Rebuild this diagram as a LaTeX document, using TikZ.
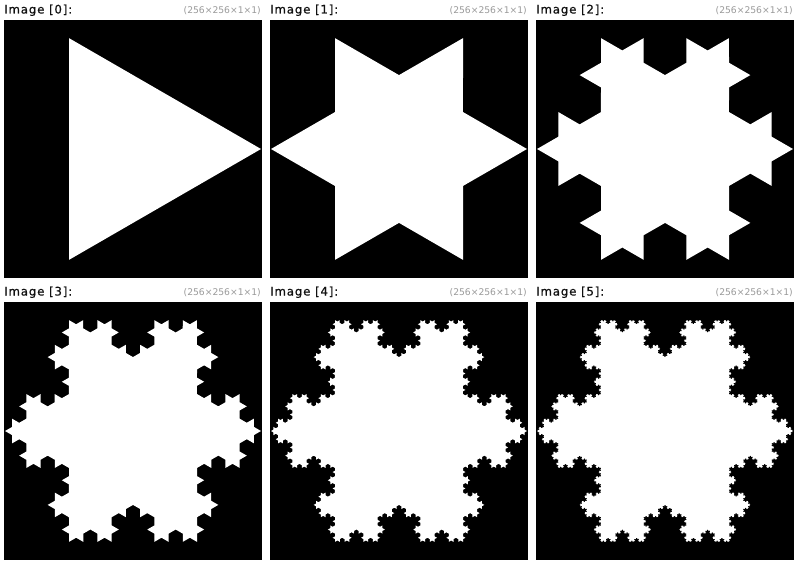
\documentclass[tikz,border=0pt]{standalone}
\usepackage{fontspec}
\setmainfont{DejaVu Sans}
\newfontfamily\titlefont[LetterSpace=7,FakeBold=0.6]{DejaVu Sans}
\usetikzlibrary{decorations.fractals}
\definecolor{titlegray}{HTML}{111111}
\definecolor{sizegray}{HTML}{9A9A9A}
\tikzset{
  panel/.style={fill=black},
  flake/.style={fill=white, decoration=Koch snowflake},
  title/.style={anchor=base west, inner sep=0pt, font=\titlefont\fontsize{11.8}{13}\selectfont, text=titlegray},
  dims/.style={anchor=base east, inner sep=0pt, font=\fontsize{9.2}{11}\selectfont, text=sizegray},
}
\begin{document}
\begin{tikzpicture}[x=1pt,y=-1pt]
\useasboundingbox[fill=white] (0,0) rectangle (798,564);
% panels
\foreach \px/\py/\k in {4/20/0, 270/20/1, 536/20/2, 4/302/3, 270/302/4, 536/302/5}{
  \fill[panel] (\px,\py) rectangle ++(258,258);
  \node[title] (t\k) at (\px,\py-6.5) {Image [\k]:};
  \node[dims] (d\k) at (\px+257,\py-6.5) {(256×256×1×1)};
}
% level 0
\begin{scope}[shift={(133,149)}]
  \fill[white] (0:128) -- (120:128) -- (240:128) -- cycle;
\end{scope}
% level 1
\begin{scope}[shift={(399,149)}]
  \fill[flake] decorate{ (0:128) -- (120:128) -- (240:128) -- (0:128) };
\end{scope}
% level 2
\begin{scope}[shift={(665,149)}]
  \fill[flake] decorate{ decorate{ (0:128) -- (120:128) -- (240:128) -- (0:128) } };
\end{scope}
% level 3
\begin{scope}[shift={(133,431)}]
  \fill[flake] decorate{ decorate{ decorate{ (0:128) -- (120:128) -- (240:128) -- (0:128) } } };
\end{scope}
% level 4
\begin{scope}[shift={(399,431)}]
  \fill[flake] decorate{ decorate{ decorate{ decorate{ (0:128) -- (120:128) -- (240:128) -- (0:128) } } } };
\end{scope}
% level 5
\begin{scope}[shift={(665,431)}]
  \fill[flake] decorate{ decorate{ decorate{ decorate{ decorate{ (0:128) -- (120:128) -- (240:128) -- (0:128) } } } } };
\end{scope}
\end{tikzpicture}
\end{document}
